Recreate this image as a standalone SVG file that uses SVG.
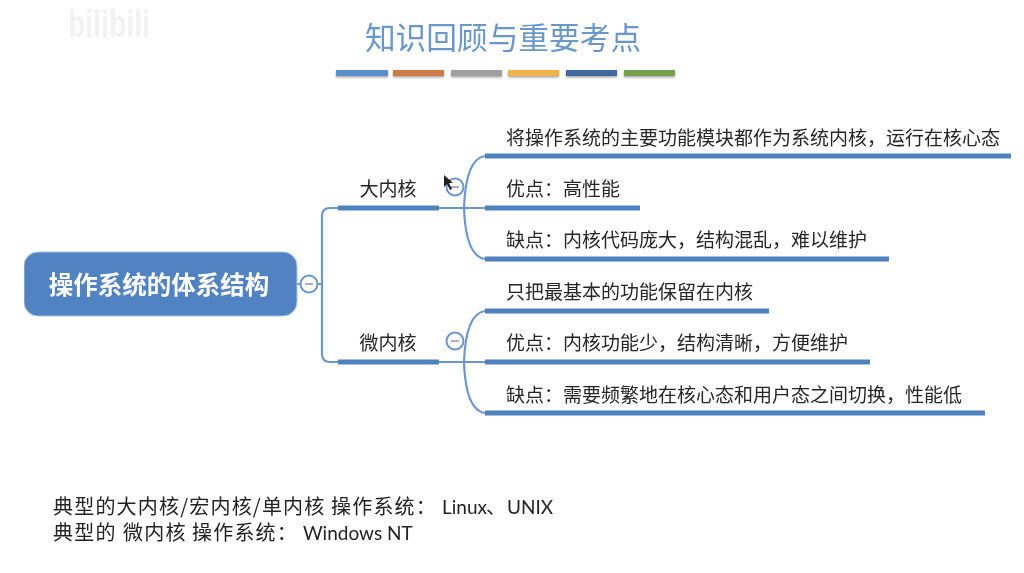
<svg xmlns="http://www.w3.org/2000/svg" width="1024" height="573" viewBox="0 0 1024 573">
<defs>
<filter id="sh" x="-10%" y="-50%" width="120%" height="220%"><feDropShadow dx="0" dy="1.5" stdDeviation="1" flood-color="#000" flood-opacity="0.35"/></filter>
<filter id="soft" x="0" y="0" width="100%" height="100%"><feGaussianBlur stdDeviation="0.35"/></filter>
</defs>
<style>
text{font-family:"Noto Sans CJK SC","Liberation Sans",sans-serif;fill:#262626;font-size:19px}
.bar{stroke:#4f81bd;stroke-width:5;fill:none}
.thin{stroke:#6c97cb;stroke-width:2.2;fill:none}
.fold{fill:#fff;stroke:#6c97cb;stroke-width:2}
.minus{stroke:#8a9ab0;stroke-width:1.5}
.foot{font-size:20px;fill:#222}
.lat{font-family:Lato,"Liberation Sans",sans-serif;font-size:19px}
</style>
<rect width="1024" height="573" fill="#fff"/>
<g filter="url(#soft)">
<text x="68" y="37" textLength="82" lengthAdjust="spacingAndGlyphs" style="font-family:'Liberation Sans',sans-serif;font-weight:700;font-size:38px;fill:#f2f2f2">bilibili</text>
<text id="title" x="503" y="49" text-anchor="middle" style="font-size:30.7px;fill:#6a97c8">知识回顾与重要考点</text>
<g id="title-bars" filter="url(#sh)">
<rect x="336" y="70" width="52" height="6" fill="#5b8fc7"/>
<rect x="393" y="70" width="51" height="6" fill="#cc7a47"/>
<rect x="451" y="70" width="51" height="6" fill="#a0a0a0"/>
<rect x="508" y="70" width="51" height="6" fill="#efb348"/>
<rect x="566" y="70" width="51" height="6" fill="#41689f"/>
<rect x="624" y="70" width="51" height="6" fill="#76a04e"/>
</g>
<g id="connectors">
<path class="thin" d="M297 284H321M338 208H330Q322 208 322 216V354Q322 362 330 362H338"/>
<path class="thin" d="M439 208H485M485 156C470 158 465 180 464 208C465 236 470 257 485 259"/>
<path class="thin" d="M439 362H485M485 311C470 313 465 335 464 362C465 390 470 411 485 413"/>
</g>
<g id="root">
<rect x="24" y="252" width="273" height="64" rx="14" fill="#5183c3" stroke="#a9c3e3"/>
<text x="159" y="294" text-anchor="middle" style="font-size:24.5px;font-weight:700;fill:#fff">操作系统的体系结构</text>
</g>
<g id="fold-root"><circle class="fold" cx="309" cy="284" r="8.5"/><path class="minus" d="M305 284H313"/></g>
<g id="n-big">
<path class="bar" d="M338 208H439"/>
<text x="388" y="196" text-anchor="middle">大内核</text>
</g>
<g id="fold-big"><circle class="fold" cx="455" cy="187" r="8.5"/><path class="minus" d="M451 187H459"/></g>
<path id="cursor" d="M444 175V187L447 184L450 190L452 189L449 183H453Z" fill="#222"/>
<g id="n-micro">
<path class="bar" d="M338 362H439"/>
<text x="388" y="350" text-anchor="middle">微内核</text>
</g>
<g id="fold-micro"><circle class="fold" cx="455" cy="341" r="8.5"/><path class="minus" d="M451 341H459"/></g>
<g id="b1"><path class="bar" d="M485 156H1011"/><text x="506" y="145">将操作系统的主要功能模块都作为系统内核，运行在核心态</text></g>
<g id="b2"><path class="bar" d="M485 208H640"/><text x="506" y="196">优点：高性能</text></g>
<g id="b3"><path class="bar" d="M485 259H889"/><text x="506" y="247">缺点：内核代码庞大，结构混乱，难以维护</text></g>
<g id="m1"><path class="bar" d="M485 311H769"/><text x="506" y="299">只把最基本的功能保留在内核</text></g>
<g id="m2"><path class="bar" d="M485 362H870"/><text x="506" y="350">优点：内核功能少，结构清晰，方便维护</text></g>
<g id="m3"><path class="bar" d="M485 413H985"/><text x="506" y="402">缺点：需要频繁地在核心态和用户态之间切换，性能低</text></g>
<text class="foot" y="514"><tspan x="53" letter-spacing="1.2">典型的大内核/宏内核/单内核</tspan><tspan x="331" letter-spacing="1.2">操作系统：</tspan><tspan class="lat" x="442">Linux</tspan><tspan x="486">、</tspan><tspan class="lat" x="507">UNIX</tspan></text>
<text class="foot" y="540"><tspan x="53" letter-spacing="1.2">典型的</tspan><tspan x="123" letter-spacing="1.2">微内核</tspan><tspan x="192" letter-spacing="1.2">操作系统：</tspan><tspan class="lat" x="303">Windows NT</tspan></text>
</g>
</svg>
